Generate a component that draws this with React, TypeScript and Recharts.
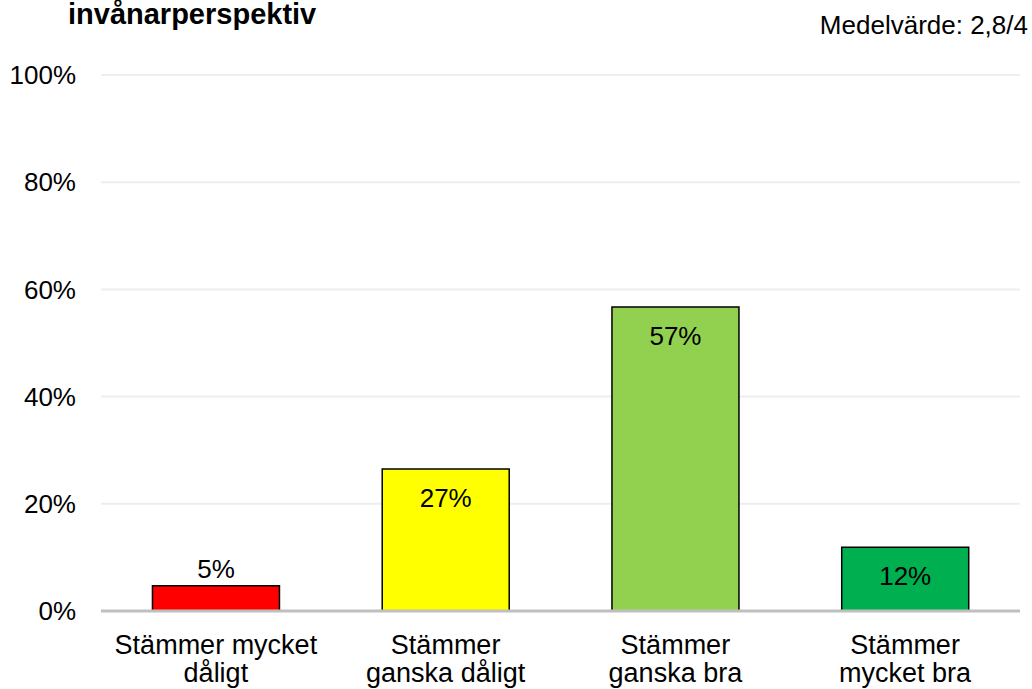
import {
  BarChart,
  Bar,
  XAxis,
  YAxis,
  CartesianGrid,
  Cell,
  LabelList,
} from "recharts";

const categories = [
  "Stämmer mycket\ndåligt",
  "Stämmer\nganska dåligt",
  "Stämmer\nganska bra",
  "Stämmer\nmycket bra",
];
const shares = [4.7, 26.5, 56.7, 11.9];
const barColors = ["#ff0000", "#ffff00", "#92d050", "#00b050"];
const yTicks = [0, 20, 40, 60, 80, 100];

const data = categories.map((name, i) => ({
  name,
  value: shares[i],
  fill: barColors[i],
}));

const FONT = '"Liberation Sans", Arial, sans-serif';

function CategoryTick(props: any) {
  const { x, y, payload } = props;
  const lines = String(payload.value).split("\n");
  return (
    <text
      x={x}
      y={y + 43}
      textAnchor="middle"
      fill="#000"
      fontSize={27}
      fontFamily={FONT}
    >
      {lines.map((line, i) => (
        <tspan key={i} x={x} dy={i === 0 ? 0 : 28}>
          {line}
        </tspan>
      ))}
    </text>
  );
}

function ValueLabel(props: any) {
  const { x, y, width, value } = props;
  const outside = value < 8;
  return (
    <text
      x={x + width / 2}
      y={outside ? y - 8 : y + 38}
      textAnchor="middle"
      fill="#000"
      fontSize={26}
      fontFamily={FONT}
    >
      {`${Math.round(value)}%`}
    </text>
  );
}

export default function App() {
  return (
    <div
      style={{
        position: "absolute",
        top: 0,
        left: 0,
        width: 1032,
        height: 689,
        background: "#fff",
        fontFamily: FONT,
      }}
    >
      <div
        style={{
          position: "absolute",
          left: 68,
          top: 0,
          fontSize: 29,
          fontWeight: 700,
          lineHeight: "28px",
        }}
      >
        invånarperspektiv
      </div>
      <div
        style={{
          position: "absolute",
          right: 4,
          top: 10,
          fontSize: 26,
          lineHeight: "30px",
        }}
      >
        Medelvärde: 2,8/4
      </div>
      <BarChart
        width={1032}
        height={689}
        data={data}
        margin={{ top: 75, right: 12, left: 0, bottom: 0 }}
        barCategoryGap="22.4%"
      >
        <CartesianGrid vertical={false} stroke="#eeeeee" strokeWidth={2} />
        <XAxis
          dataKey="name"
          height={78}
          tickLine={false}
          tickSize={0}
          tickMargin={0}
          axisLine={{ stroke: "#bfbfbf", strokeWidth: 3 }}
          tick={<CategoryTick />}
          interval={0}
        />
        <YAxis
          width={101}
          domain={[0, 100]}
          ticks={yTicks}
          tickFormatter={(v: number) => `${v}%`}
          axisLine={false}
          tickLine={false}
          tickSize={0}
          tickMargin={25}
          tick={{ fill: "#000", fontSize: 26, fontFamily: FONT }}
        />
        <Bar
          dataKey="value"
          stroke="#000"
          strokeWidth={1.5}
          isAnimationActive={false}
        >
          {data.map((d, i) => (
            <Cell key={`cell-${i}`} fill={d.fill} />
          ))}
          <LabelList dataKey="value" content={<ValueLabel />} />
        </Bar>
      </BarChart>
    </div>
  );
}
